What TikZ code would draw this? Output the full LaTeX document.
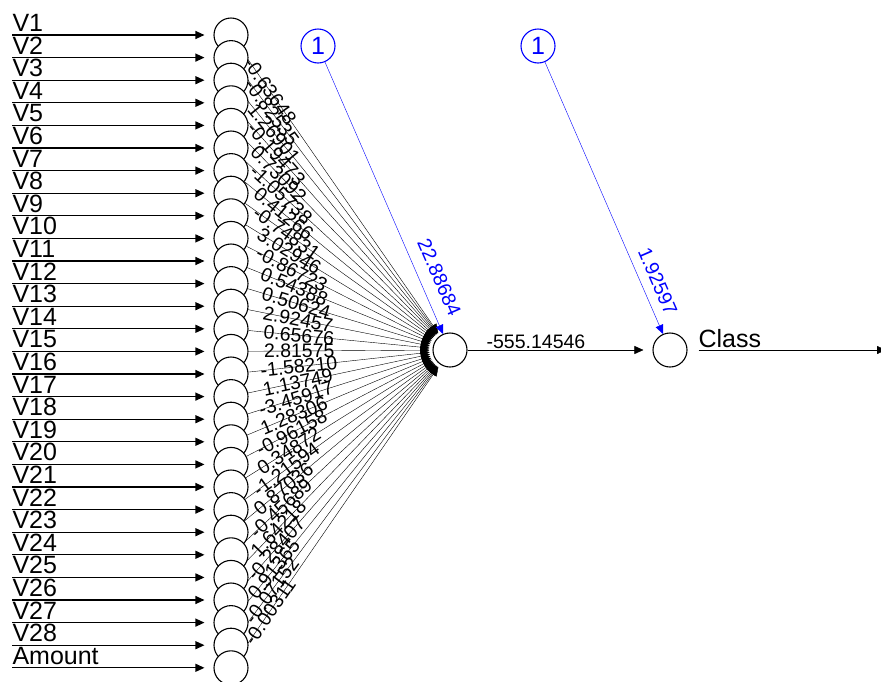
\documentclass[tikz,border=0pt]{standalone}
\usepackage{fontspec}
\setmainfont{Liberation Sans}
\usetikzlibrary{arrows.meta}
\definecolor{NetBlue}{HTML}{0000FF}
\definecolor{NetBlack}{HTML}{000000}
\pgfdeclarelayer{background}
\pgfsetlayers{background,main}

\begin{document}
\begin{tikzpicture}[x=1pt,y=-1pt,line width=1.1pt,
  neuron/.style={circle,draw=NetBlack,fill=white,minimum size=34pt,inner sep=0pt},
  biasnode/.style={neuron,draw=NetBlue,text=NetBlue,font=\fontsize{25}{25}\selectfont},
  inlabel/.style={anchor=base west,inner sep=0pt,font=\fontsize{25}{25}\selectfont},
  wlabel/.style={sloped,inner sep=0pt,font=\fontsize{19.5}{20}\selectfont},
  nnarrow/.style={-{Triangle[length=9pt,width=8pt]}}]

\useasboundingbox (0,0) rectangle (881,681);

\foreach \i/\lab in {1/V1,2/V2,3/V3,4/V4,5/V5,6/V6,7/V7,8/V8,9/V9,10/V10,
  11/V11,12/V12,13/V13,14/V14,15/V15,16/V16,17/V17,18/V18,19/V19,20/V20,
  21/V21,22/V22,23/V23,24/V24,25/V25,26/V26,27/V27,28/V28,29/Amount} {
  \pgfmathsetmacro{\yy}{35+22.6*(\i-1)}
  \node[neuron] (in\i) at (231,\yy) {};
  \coordinate (src\i) at (12,\yy);
  \node[inlabel] (lab\i) at (12,\yy-3.5) {\lab};
  \draw[nnarrow,shorten >=9pt] (src\i) -- (in\i);
}

\node[neuron] (hid) at (450,350) {};
\node[neuron] (out) at (670,350) {};
\node[biasnode] (bias1) at (318,46) {1};
\node[biasnode] (bias2) at (538,46) {1};
\coordinate (classend) at (886,350);
\node[inlabel] (classlab) at (698,347) {Class};

\begin{pgfonlayer}{background}
\foreach \i/\w in {1/-0.63648,2/-0.82535,3/1.26901,4/-0.19473,5/0.73092,
  6/-1.05738,7/0.41266,8/-0.74831,9/3.02946,10/-0.86723,11/0.54388,
  12/0.50624,13/2.92457,14/0.65676,15/2.81575,16/-1.58210,17/1.13749,
  18/-3.45917,19/1.28306,20/-0.96158,21/0.34872,22/-1.21594,23/0.87036,
  24/-0.45689,25/1.64218,26/-0.28407,27/0.91365,28/-0.07152,29/-0.00311} {
  \pgfmathsetmacro{\yy}{35+22.6*(\i-1)}
  \pgfmathsetmacro{\pp}{51/(veclen(219,350-\yy)-34)}
  \draw[nnarrow,shorten >=3pt] (in\i) -- (hid) node[wlabel,pos=\pp] {\w};
}
\draw[nnarrow,NetBlue] (bias1) -- (hid)
  node[wlabel,pos=0.82,above=12pt,text=NetBlue] {22.88684};
\draw[nnarrow,NetBlue] (bias2) -- (out)
  node[wlabel,pos=0.83,above=9pt,text=NetBlue] {1.92597};
\draw[nnarrow,shorten >=9pt] (hid) -- (out)
  node[wlabel,pos=0.37,above=1.5pt] {-555.14546};
\draw[nnarrow,shorten <=11pt] (out) -- (classend);
\end{pgfonlayer}

\end{tikzpicture}
\end{document}
